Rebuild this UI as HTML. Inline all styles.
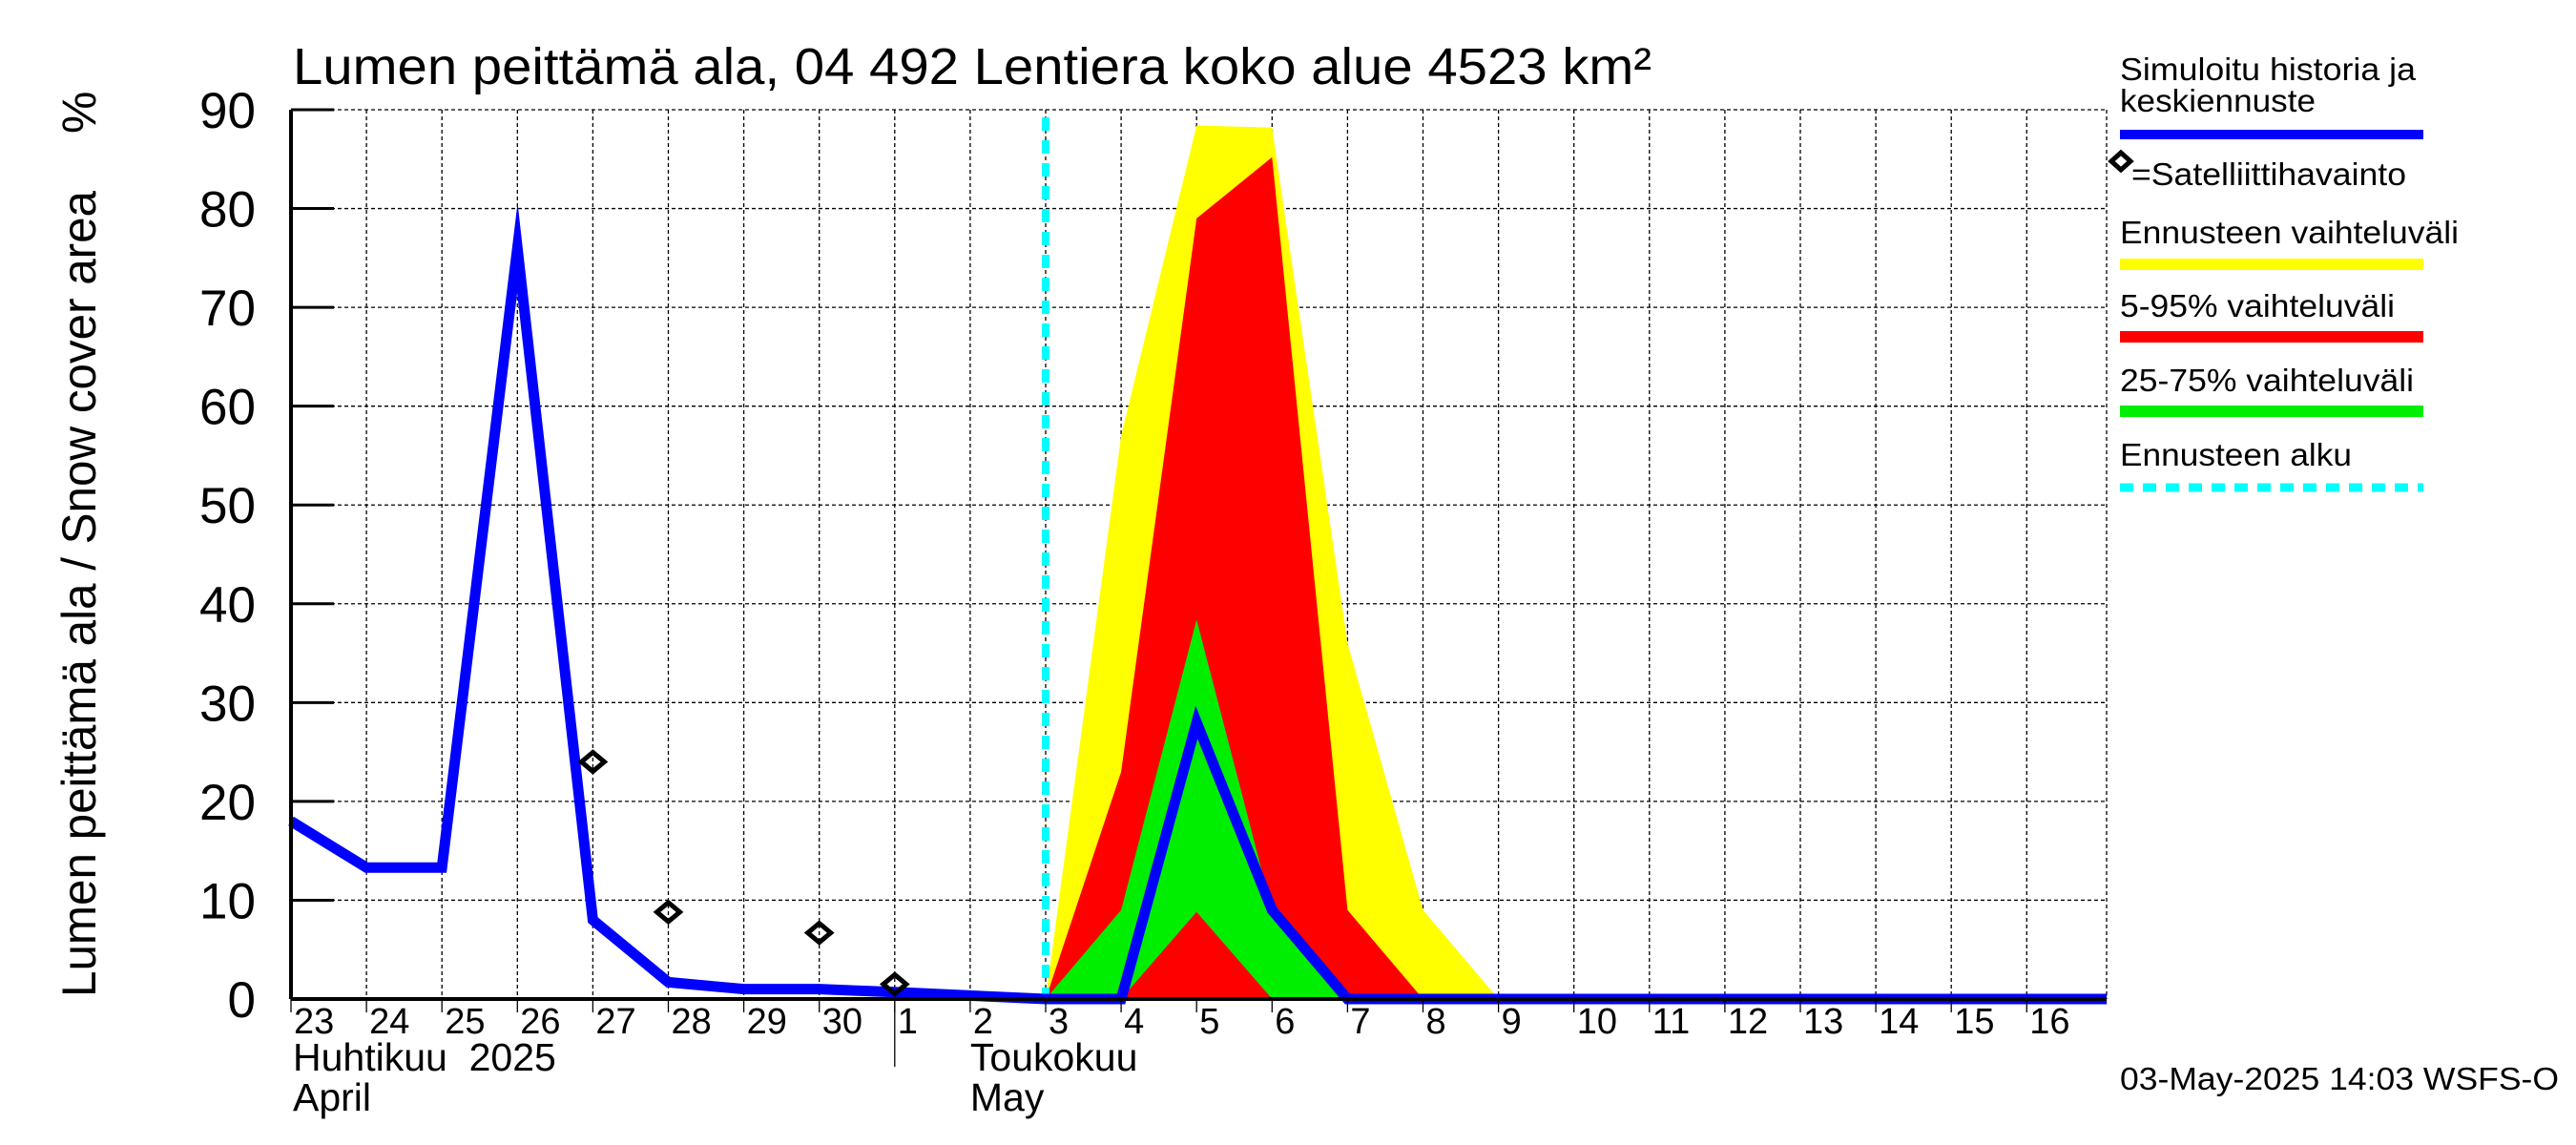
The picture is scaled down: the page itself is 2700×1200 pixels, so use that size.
<!DOCTYPE html>
<html><head><meta charset="utf-8"><style>
html,body{margin:0;padding:0;background:#fff;}
svg{display:block;font-family:"Liberation Sans",sans-serif;}
text{white-space:pre;}
</style></head><body>
<svg id="chart" width="2700" height="1200" viewBox="0 0 2700 1200" xmlns="http://www.w3.org/2000/svg">
<rect width="2700" height="1200" fill="#fff"/>
<text x="307" y="88" font-size="54" textLength="1424" lengthAdjust="spacingAndGlyphs">Lumen peittämä ala, 04 492 Lentiera koko alue 4523 km²</text>
<text transform="translate(100,1045) rotate(-90)" font-size="50" textLength="845" lengthAdjust="spacingAndGlyphs">Lumen peittämä ala / Snow cover area</text>
<text transform="translate(100,140) rotate(-90)" font-size="50">%</text>
<g id="grid"></g><g id="bands"></g><g id="lines"></g><g id="axes"></g>
<g font-size="33">
<text x="2222" y="84" textLength="310" lengthAdjust="spacingAndGlyphs">Simuloitu historia ja</text>
<text x="2222" y="117" textLength="205" lengthAdjust="spacingAndGlyphs">keskiennuste</text>
<rect x="2222" y="136" width="318" height="10" fill="#0000ff"/>
<path d="M2223 160 L2233 169 L2223 178 L2213 169 Z" fill="none" stroke="#000" stroke-width="5"/>
<text x="2234" y="194" textLength="288" lengthAdjust="spacingAndGlyphs">=Satelliittihavainto</text>
<text x="2222" y="255" textLength="355" lengthAdjust="spacingAndGlyphs">Ennusteen vaihteluväli</text>
<rect x="2222" y="271" width="318" height="12" fill="#ffff00"/>
<text x="2222" y="332" textLength="288" lengthAdjust="spacingAndGlyphs">5-95% vaihteluväli</text>
<rect x="2222" y="347" width="318" height="12" fill="#ff0000"/>
<text x="2222" y="410" textLength="308" lengthAdjust="spacingAndGlyphs">25-75% vaihteluväli</text>
<rect x="2222" y="425" width="318" height="12" fill="#00ee00"/>
<text x="2222" y="488" textLength="243" lengthAdjust="spacingAndGlyphs">Ennusteen alku</text>
<line x1="2222" y1="511" x2="2540" y2="511" stroke="#00ffff" stroke-width="9" stroke-dasharray="14,10"/>
</g>
<text x="2222" y="1142" font-size="33" textLength="460" lengthAdjust="spacingAndGlyphs">03-May-2025 14:03 WSFS-O</text>
</svg>
<script>
const dayLabels=["23","24","25","26","27","28","29","30","1","2","3","4","5","6","7","8","9","10","11","12","13","14","15","16"];
const yTicks=[0,10,20,30,40,50,60,70,80,90];
const simDays=[0,1,2,3,4,5,6,7,8,10,11,12,13,14,24.06];
const simVals=[18,13.3,13.3,76,8,1.7,1,1,0.7,0,0,28,9,0,0];
const bandDays=[10,11,12,13,14,15,16];
const yellowHi=[0,57,88.4,88.2,36,9,0];
const redHi=[0,23,79,85.2,9,0,0];
const redLo=[0,0,8.8,0,0,0,0];
const greenHi=[0,9,38.4,9,0,0,0];
const greenLo=[0,0,8.8,0,0,0,0];
const obsDays=[4,5,7,8];
const obsVals=[24,8.8,6.7,1.5];
const forecastStart=10;

const X0=305,DX=79.1,Y0=1047,Y1=115,XR=2208;
const sx=d=>X0+d*DX;
const sy=v=>Y0-(v/90)*(Y0-Y1);
const NS="http://www.w3.org/2000/svg";
function mk(tag,parent,attrs){const e=document.createElementNS(NS,tag);for(const k in attrs)e.setAttribute(k,attrs[k]);parent.appendChild(e);return e;}
const grid=document.getElementById('grid'),bands=document.getElementById('bands'),lines=document.getElementById('lines'),axes=document.getElementById('axes');
yTicks.forEach(v=>{
 if(v>0){const g=mk('line',grid,{x1:X0,x2:XR,y1:sy(v),y2:sy(v),stroke:'#000','stroke-width':1.3,'stroke-dasharray':'4,3'});
 
 }
 const t=mk('line',axes,{x1:X0,x2:X0+45,y1:sy(v),y2:sy(v),stroke:'#000','stroke-width':3});
 
 
 const l=mk('text',axes,{x:268,y:sy(v)+19,'font-size':53,'text-anchor':'end'});
 l.textContent=v;
 
 
});
dayLabels.forEach((lab,i)=>{
 if(i>0){const g=mk('line',grid,{x1:sx(i),x2:sx(i),y1:Y1,y2:Y0,stroke:'#000','stroke-width':1.3,'stroke-dasharray':'4,3'});
 
 }
 const t=mk('line',axes,{x1:sx(i),x2:sx(i),y1:Y0,y2:Y0+14,stroke:'#000','stroke-width':1.3});
 
 
 const l=mk('text',axes,{x:sx(i)+3,y:1083,'font-size':38});
 l.textContent=lab;
 
 
});
const rg=mk('line',grid,{x1:XR,x2:XR,y1:Y1,y2:Y0,stroke:'#000','stroke-width':1.3,'stroke-dasharray':'4,3'});


function band(hi,lo,color,name){
 let pts=bandDays.map((d,i)=>sx(d)+','+sy(hi[i]));
 for(let i=bandDays.length-1;i>=0;i--)pts.push(sx(bandDays[i])+','+sy(lo[i]));
 const p=mk('polygon',bands,{points:pts.join(' '),fill:color});
 
 
}
const zeros=bandDays.map(()=>0);
band(yellowHi,zeros,'#ffff00','forecast-range-band');
band(redHi,zeros,'#ff0000','band-5-95');
band(greenHi,redLo,'#00ee00','band-25-75');
band(redLo,zeros,'#ff0000','band-5-95-lower');
const fl=mk('line',lines,{x1:sx(forecastStart),x2:sx(forecastStart),y1:Y1+8,y2:Y0,stroke:'#00ffff','stroke-width':8,'stroke-dasharray':'14,10'});


const sim=mk('polyline',lines,{points:simDays.map((d,i)=>sx(d)+','+sy(simVals[i])).join(' '),fill:'none',stroke:'#0000ff','stroke-width':11,'stroke-linejoin':'miter','stroke-miterlimit':10});


obsDays.forEach((d,i)=>{
 const x=sx(d),y=sy(obsVals[i]);
 const m=mk('path',lines,{d:`M${x} ${y-10} L${x+12} ${y} L${x} ${y+10} L${x-12} ${y} Z`,fill:'none',stroke:'#000','stroke-width':5});
 
 
});
const la=mk('line',axes,{x1:X0,x2:X0,y1:Y1,y2:Y0,stroke:'#000','stroke-width':4});


const ba=mk('line',axes,{x1:X0,x2:XR,y1:Y0,y2:Y0,stroke:'#000','stroke-width':4});


const ms=mk('line',axes,{x1:sx(8),x2:sx(8),y1:Y0,y2:1118,stroke:'#000','stroke-width':1.3});


[["Huhtikuu  2025",sx(0)+2,1122,"month-label-april-fi"],["April",sx(0)+2,1164,"month-label-april-en"],["Toukokuu",sx(9),1122,"month-label-may-fi"],["May",sx(9),1164,"month-label-may-en"]].forEach(a=>{
 const t=mk('text',axes,{x:a[1],y:a[2],'font-size':41});
 t.textContent=a[0];
 
 
});
</script>
</body></html>
